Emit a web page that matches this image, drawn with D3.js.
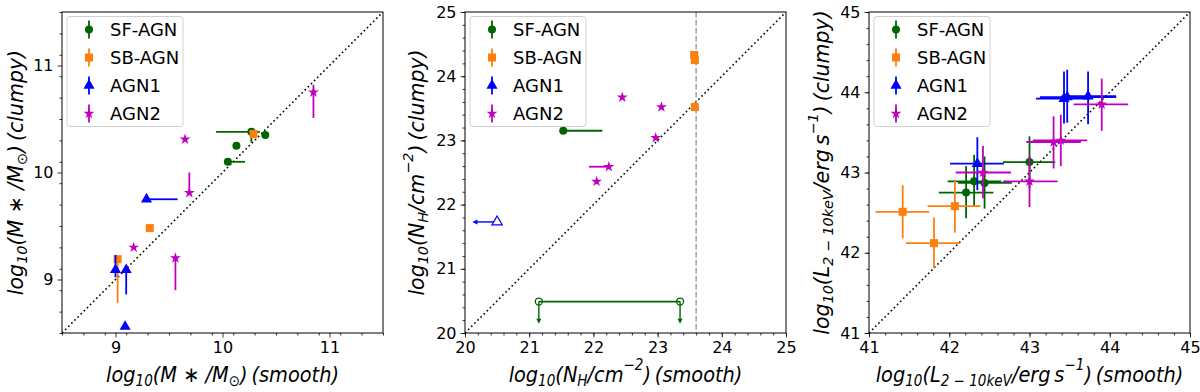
<!DOCTYPE html>
<html><head><meta charset="utf-8">
<script src="https://cdn.jsdelivr.net/npm/d3@7"></script>
<style>body{margin:0;background:#fff}svg{display:block}text{font-family:"DejaVu Sans",sans-serif}</style>
</head><body><svg id="c" width="1200" height="392"></svg>
<script>
// ---- data: [x, y, xmin, xmax, ymin, ymax] (null = no error bar)
const seriesNames = ["SF-AGN", "SB-AGN", "AGN1", "AGN2"];
const seriesColors = ["#006400", "#ff7f0e", "#0000ff", "#bf00bf"];
const seriesShapes = ["circle", "square", "triangle", "star"];

// Panel 1: stellar mass
const mass_SF = [[10.27,10.38,9.94,10.35,10.28,10.38],[10.40,10.35],[10.13,10.25],[10.05,10.10,10.05,10.21]];
const mass_SB = [[10.29,10.36],[9.32,9.48],[9.02,9.19,null,null,8.78,9.22]];
const mass_AGN1 = [[9.29,9.75,9.29,9.58],[9.00,9.09,null,null,9.02,9.23],[9.10,9.09,null,null,8.86,9.09],[9.09,8.56]];
const mass_AGN2 = [[10.85,10.75,null,null,10.51,10.82],[9.65,10.31],[9.69,9.81,null,null,9.81,10.00],[9.17,9.30],[9.56,9.20,null,null,8.90,9.20]];

// Panel 2: column density
const nh_SF = [[21.53,23.15,21.53,22.14]];
const nh_SF_uplim = [[21.15,20.49,21.15,23.35,20.16],[23.35,20.49,null,null,20.16]]; // open, upper limits (arrow to ymin)
const nh_SB = [[23.57,24.33],[23.58,24.25],[23.58,23.52]];
const nh_AGN1_lolim = [[20.50,21.73,20.13]]; // open, limit arrow pointing left to xmin
const nh_AGN2 = [[22.45,23.67],[23.06,23.52],[22.97,23.04],[22.24,22.59,21.93,22.24],[22.05,22.36]];
const nh_limit = 23.6;

// Panel 3: X-ray luminosity
const lx_SF = [[43.00,43.13,42.67,43.32,42.80,43.45],[42.31,42.89,41.98,42.65,42.57,43.22],[42.44,42.87,42.11,42.78,42.55,43.20],[42.21,42.75,41.87,42.55,42.43,43.08]];
const lx_SB = [[41.42,42.51,41.08,41.75,42.18,42.84],[42.07,42.58,41.73,42.39,42.25,42.91],[41.81,42.12,41.46,42.13,41.81,42.44]];
const lx_AGN1 = [[42.35,43.11,42.01,42.68,42.78,43.44],[43.43,43.92,43.08,43.75,43.61,44.26],[43.47,43.94,43.13,44.08,43.62,44.28],[43.73,43.95,43.40,44.08,43.60,44.26]];
const lx_AGN2 = [[43.90,43.85,43.55,44.23,43.52,44.17],[43.30,43.38,42.96,43.64,43.05,43.70],[43.39,43.40,43.04,43.72,43.08,43.72],[42.42,43.00,42.08,42.77,42.68,43.33],[43.00,42.89,42.67,43.35,42.57,43.21]];

const massTicks = [9, 10, 11], nhTicks = [20, 21, 22, 23, 24, 25], lxTicks = [41, 42, 43, 44, 45];

const svg = d3.select("#c");
const plotTop = 12, size = 321;
const panels = [
  {left: 62, dom: [8.5, 11.5], ticks: massTicks, series: [mass_SF, mass_SB, mass_AGN1, mass_AGN2],
   xlab: [["log", "i"], ["10", "sub"], ["(", "i"], ["M", "i"], [" ∗ ", "n"], ["/M", "i"], ["⊙", "subn"], [")\u2009(smooth)", "i"]],
   ylab: [["log", "i"], ["10", "sub"], ["(", "i"], ["M", "i"], [" ∗ ", "n"], ["/M", "i"], ["⊙", "subn"], [")\u2009(clumpy)", "i"]]},
  {left: 465, dom: [20, 25], ticks: nhTicks, series: [nh_SF, nh_SB, [], nh_AGN2],
   xlab: [["log", "i"], ["10", "sub"], ["(N", "i"], ["H", "sub"], ["/cm", "i"], ["−2", "sup"], [")\u2009(smooth)", "i"]],
   ylab: [["log", "i"], ["10", "sub"], ["(N", "i"], ["H", "sub"], ["/cm", "i"], ["−2", "sup"], [")\u2009(clumpy)", "i"]]},
  {left: 869, dom: [41, 45], ticks: lxTicks, series: [lx_SF, lx_SB, lx_AGN1, lx_AGN2],
   xlab: [["log", "i"], ["10", "sub"], ["(L", "i"], ["2 − 10keV", "sub"], ["/erg\u2009s", "i"], ["−1", "sup"], [")\u2009(smooth)", "i"]],
   ylab: [["log", "i"], ["10", "sub"], ["(L", "i"], ["2 − 10keV", "sub"], ["/erg\u2009s", "i"], ["−1", "sup"], [")\u2009(clumpy)", "i"]]}
];

function markerPath(shape, r) {
  if (shape === "circle") return d3.symbol(d3.symbolCircle, Math.PI * r * r)();
  if (shape === "square") return d3.symbol(d3.symbolSquare, (2 * r) * (2 * r))();
  if (shape === "triangle") return d3.symbol(d3.symbolTriangle, 2.1 * r * r * 1.6)();
  return d3.symbol(d3.symbolStar, 2.3 * r * r)();
}
const MR = 4;

function label(sel, parts, fs) {
  let shift = 0;
  parts.forEach(([t, k]) => {
    const ts = sel.append("tspan").text(t);
    let target = 0;
    if (k === "i") ts.attr("font-style", "italic");
    if (k === "n") ts.attr("font-style", "normal");
    if (k === "sub") { ts.attr("font-style", "italic").attr("font-size", fs * 0.7); target = fs * 0.2; }
    if (k === "subn") { ts.attr("font-size", fs * 0.7); target = fs * 0.2; }
    if (k === "sup") { ts.attr("font-style", "italic").attr("font-size", fs * 0.7); target = -fs * 0.55; }
    ts.attr("dy", target - shift);
    shift = target;
  });
}

panels.forEach((p, pi) => {
  const x = d3.scaleLinear().domain(p.dom).range([p.left, p.left + size]);
  const y = d3.scaleLinear().domain(p.dom).range([plotTop + size, plotTop]);
  const g = svg.append("g");
  const clipId = "clip" + pi;
  svg.append("clipPath").attr("id", clipId).append("rect").attr("x", p.left).attr("y", plotTop).attr("width", size).attr("height", size);
  const plot = g.append("g").attr("clip-path", `url(#${clipId})`);

  // axes
  const minor = d3.range(p.dom[0], p.dom[1] + 1e-9, 0.2).map(v => +v.toFixed(2));
  const xAx = g.append("g").attr("transform", `translate(0,${plotTop + size})`);
  xAx.call(d3.axisBottom(x).tickValues(minor).tickSize(2.5).tickFormat(""));
  xAx.append("g").call(d3.axisBottom(x).tickValues(p.ticks).tickSize(4.5).tickPadding(4).tickFormat(d3.format("d")));
  const yAx = g.append("g").attr("transform", `translate(${p.left},0)`);
  yAx.call(d3.axisLeft(y).tickValues(minor).tickSize(2.5).tickFormat(""));
  yAx.append("g").call(d3.axisLeft(y).tickValues(p.ticks).tickSize(4.5).tickPadding(4).tickFormat(d3.format("d")));
  g.selectAll(".domain").remove();
  g.selectAll(".tick line").attr("stroke", "#000").attr("stroke-width", 0.8);
  g.selectAll(".tick text").attr("font-size", 16).attr("font-family", "DejaVu Sans").attr("fill", "#000");

  // diagonal 1:1 line
  plot.append("line").attr("x1", x(p.dom[0])).attr("y1", y(p.dom[0])).attr("x2", x(p.dom[1])).attr("y2", y(p.dom[1]))
    .attr("stroke", "#000").attr("stroke-width", 1.6).attr("stroke-dasharray", "1.6,2.8");

  if (pi === 1) {
    plot.append("line").attr("x1", x(nh_limit)).attr("x2", x(nh_limit)).attr("y1", plotTop).attr("y2", plotTop + size)
      .attr("stroke", "#999").attr("stroke-width", 1.4).attr("stroke-dasharray", "5.5,2.5");
  }

  p.series.forEach((data, si) => {
    const col = seriesColors[si];
    const sg = plot.append("g");
    data.forEach(d => {
      const [vx, vy, x0, x1, y0, y1] = d;
      if (x0 != null) sg.append("line").attr("x1", x(x0)).attr("x2", x(x1)).attr("y1", y(vy)).attr("y2", y(vy)).attr("stroke", col).attr("stroke-width", 1.8);
      if (y0 != null) sg.append("line").attr("x1", x(vx)).attr("x2", x(vx)).attr("y1", y(y0)).attr("y2", y(y1)).attr("stroke", col).attr("stroke-width", 1.8);
    });
    data.forEach(d => {
      sg.append("path").attr("d", markerPath(seriesShapes[si], MR)).attr("transform", `translate(${x(d[0])},${y(d[1])})`).attr("fill", col);
    });
    if (pi === 1 && si === 0) {
      nh_SF_uplim.forEach(d => {
        const [vx, vy, x0, x1, ylim] = d;
        if (x0 != null) sg.append("line").attr("x1", x(x0)).attr("x2", x(x1)).attr("y1", y(vy)).attr("y2", y(vy)).attr("stroke", col).attr("stroke-width", 1.8);
        sg.append("line").attr("x1", x(vx)).attr("x2", x(vx)).attr("y1", y(vy)).attr("y2", y(ylim) - 3).attr("stroke", col).attr("stroke-width", 1.4);
        sg.append("path").attr("d", `M${x(vx) - 2.5},${y(ylim) - 4}L${x(vx) + 2.5},${y(ylim) - 4}L${x(vx)},${y(ylim) + 1}Z`).attr("fill", col);
      });
      nh_SF_uplim.forEach(d => {
        sg.append("circle").attr("cx", x(d[0])).attr("cy", y(d[1])).attr("r", MR - 0.5).attr("fill", "none").attr("stroke", col).attr("stroke-width", 1.3);
      });
    }
    if (pi === 1 && si === 2) {
      nh_AGN1_lolim.forEach(d => {
        const [vx, vy, xlim] = d;
        sg.append("line").attr("x1", x(xlim) + 3).attr("x2", x(vx)).attr("y1", y(vy)).attr("y2", y(vy)).attr("stroke", col).attr("stroke-width", 1.4);
        sg.append("path").attr("d", `M${x(xlim) + 4},${y(vy) - 2.5}L${x(xlim) + 4},${y(vy) + 2.5}L${x(xlim) - 1},${y(vy)}Z`).attr("fill", col);
        sg.append("path").attr("d", markerPath("triangle", MR - 0.3)).attr("transform", `translate(${x(vx)},${y(vy)})`)
          .attr("fill", "#fff").attr("stroke", col).attr("stroke-width", 1.2);
      });
    }
  });

  // frame
  g.append("rect").attr("x", p.left).attr("y", plotTop).attr("width", size).attr("height", size).attr("fill", "none").attr("stroke", "#000").attr("stroke-width", 1);

  // legend
  const lg = g.append("g").attr("transform", `translate(${p.left + 5},${plotTop + 4.5})`);
  lg.append("rect").attr("width", 116).attr("height", 110).attr("rx", 3).attr("fill", "#fff").attr("fill-opacity", 0.8).attr("stroke", "#d0d0d0");
  seriesNames.forEach((n, i) => {
    const cy = 13 + i * 28;
    lg.append("line").attr("x1", 22).attr("x2", 22).attr("y1", cy - 9).attr("y2", cy + 9).attr("stroke", seriesColors[i]).attr("stroke-width", 1.8);
    lg.append("path").attr("d", markerPath(seriesShapes[i], MR)).attr("transform", `translate(22,${cy})`).attr("fill", seriesColors[i]);
    lg.append("text").attr("x", 43).attr("y", cy + 6.5).attr("font-size", 18).attr("fill", "#000").text(n);
  });

  // axis labels
  const fsx = 21.5, fsy = 20.5;
  const xl = svg.append("text").attr("transform", `translate(${p.left + size / 2},382) scale(0.9,1)`).attr("text-anchor", "middle").attr("font-size", fsx).attr("fill", "#000");
  label(xl, p.xlab, fsx);
  const ylx = pi === 0 ? 23 : (pi === 1 ? 424 : 829);
  const yl = svg.append("text").attr("transform", `translate(${ylx},${plotTop + size / 2}) rotate(-90)`).attr("text-anchor", "middle").attr("font-size", fsy).attr("fill", "#000");
  label(yl, p.ylab, fsy);
});
</script></body></html>
